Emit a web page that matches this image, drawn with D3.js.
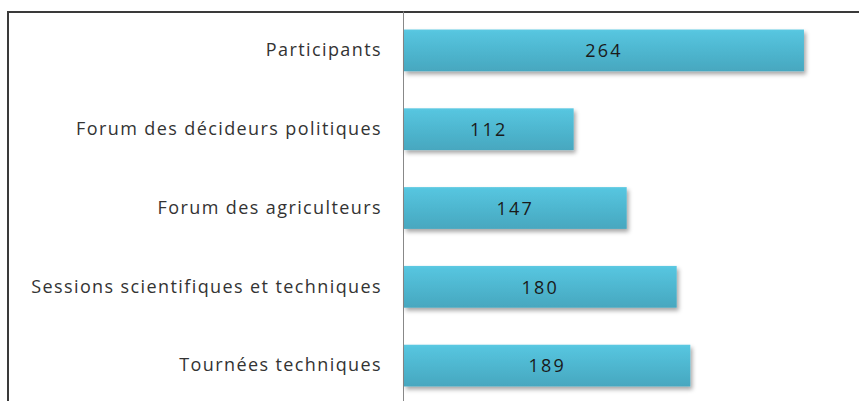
<!DOCTYPE html>
<html>
<head>
<meta charset="utf-8">
<script src="https://cdn.jsdelivr.net/npm/d3@7"></script>
<style>
body { margin: 0; background: #fff; }
text { font-family: "Open Sans", Lato, sans-serif; }
</style>
</head>
<body>
<svg id="chart"></svg>
<script>
var categories = ["Participants", "Forum des décideurs politiques", "Forum des agriculteurs",
  "Sessions scientifiques et techniques", "Tournées techniques"];
var values = [264, 112, 147, 180, 189];
var axisMax = 300;

var width = 859, height = 401;

var svg = d3.select("#chart")
  .attr("width", width)
  .attr("height", height);

var defs = svg.append("defs");
var grad = defs.append("linearGradient")
  .attr("id", "barGrad")
  .attr("x1", 0).attr("y1", 0).attr("x2", 0).attr("y2", 1);
grad.append("stop").attr("offset", "0%").attr("stop-color", "#5cc9e2");
grad.append("stop").attr("offset", "8%").attr("stop-color", "#55c4de");
grad.append("stop").attr("offset", "100%").attr("stop-color", "#47a7bf");

var shadow = defs.append("filter").attr("id", "shadow")
  .attr("x", "-5%").attr("y", "-20%").attr("width", "115%").attr("height", "160%");
shadow.append("feDropShadow")
  .attr("dx", 2).attr("dy", 3).attr("stdDeviation", 2)
  .attr("flood-color", "#000").attr("flood-opacity", 0.35);

// frame of the chart area
svg.append("line").attr("x1", 7).attr("x2", width).attr("y1", 12).attr("y2", 12)
  .attr("stroke", "#3a3a3a").attr("stroke-width", 2);
svg.append("line").attr("x1", 8).attr("x2", 8).attr("y1", 11).attr("y2", height)
  .attr("stroke", "#3a3a3a").attr("stroke-width", 2);

var x = d3.scaleLinear().domain([0, axisMax]).range([403, 857.5]);
var y = d3.scaleBand().domain(categories).range([11, 405])
  .paddingInner(0.47).paddingOuter(0.235);

// category axis
var yAxis = d3.axisLeft(y).tickSize(0).tickPadding(21);
var gy = svg.append("g")
  .attr("transform", "translate(" + x(0) + ",0)")
  .call(yAxis);
gy.select(".domain").attr("stroke", "#888").attr("stroke-width", 1);
gy.selectAll("text")
  .attr("fill", "#333")
  .style("font-size", "18px")
  .style("letter-spacing", "1.4px");

svg.selectAll(".bar")
  .data(values)
  .enter().append("rect")
  .attr("class", "bar")
  .attr("x", x(0) + 1)
  .attr("y", function(d, i) { return y(categories[i]); })
  .attr("width", function(d) { return x(d) - x(0); })
  .attr("height", y.bandwidth())
  .attr("fill", "url(#barGrad)")
  .attr("filter", "url(#shadow)");

svg.selectAll(".val")
  .data(values)
  .enter().append("text")
  .attr("class", "val")
  .attr("x", function(d) { return (x(0) + x(d)) / 2 + 1; })
  .attr("y", function(d, i) { return y(categories[i]) + y.bandwidth() / 2; })
  .attr("dy", "0.38em")
  .attr("text-anchor", "middle")
  .attr("fill", "#1a1a1a")
  .style("font-size", "18px")
  .style("letter-spacing", "2.2px")
  .text(function(d) { return d; });
</script>
</body>
</html>
